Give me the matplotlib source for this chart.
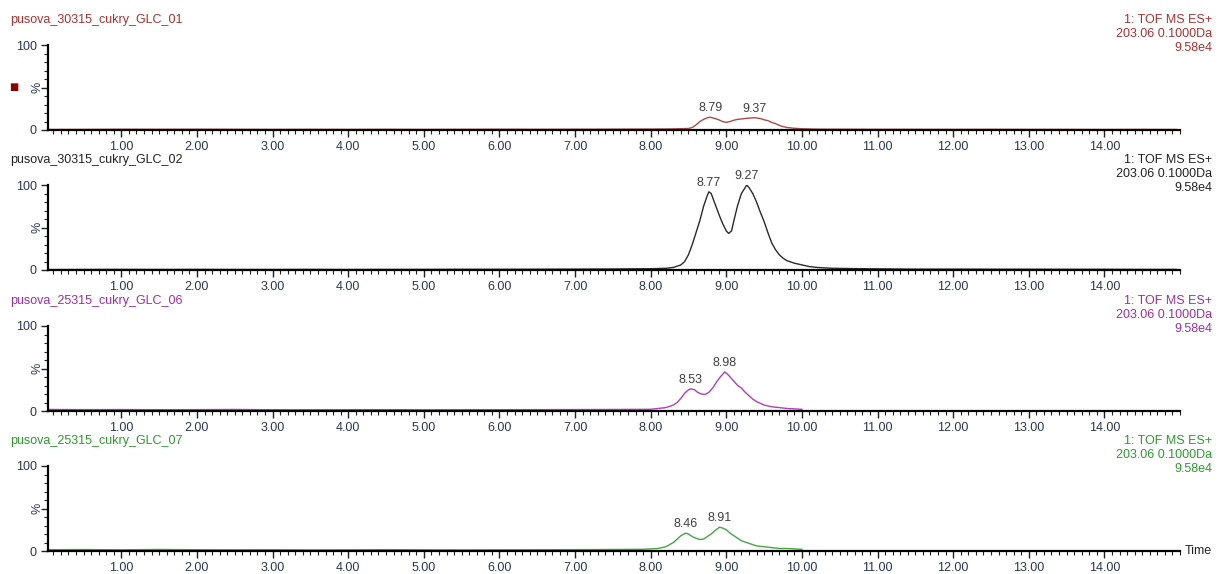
import numpy as np
import matplotlib.pyplot as plt
from matplotlib.ticker import MultipleLocator

plt.rcParams['font.family'] = ['Liberation Sans', 'DejaVu Sans']

# ---- data (retention time in min, relative intensity in %) ----
names = ['pusova_30315_cukry_GLC_01', 'pusova_30315_cukry_GLC_02',
         'pusova_25315_cukry_GLC_06', 'pusova_25315_cukry_GLC_07']
info = ['1: TOF MS ES+', '203.06 0.1000Da', '9.58e4']

t1 = [0.05, 0.5, 1.0, 1.5, 2.0, 2.5, 3.0, 3.5, 4.0, 4.5, 5.0, 5.5, 6.0, 6.5, 7.0, 7.5, 8.0, 8.3,
      8.5, 8.55, 8.6, 8.65, 8.7, 8.75, 8.79, 8.85, 8.9, 8.95, 9.0, 9.05, 9.1, 9.15, 9.2, 9.25,
      9.3, 9.37, 9.45, 9.5, 9.55, 9.6, 9.65, 9.7, 9.75, 9.8, 9.9, 10.0, 10.2, 10.5, 11.0, 11.5,
      12.0, 12.5, 13.0, 13.5, 14.0, 14.5, 14.95]
y1 = [0.6, 0.7, 0.9, 0.8, 0.9, 0.8, 0.7, 0.8, 0.7, 0.8, 0.7, 0.8, 0.9, 0.8, 0.9, 1.0, 1.1, 1.3,
      1.8, 3.0, 6.0, 10.0, 12.5, 14.5, 15.0, 13.5, 12.0, 10.0, 9.0, 10.0, 11.5, 12.5, 13.0, 13.5,
      14.0, 14.5, 13.5, 12.0, 11.0, 9.0, 7.5, 5.5, 4.0, 3.0, 2.0, 1.5, 1.0, 0.9, 0.8, 0.8,
      0.7, 0.8, 0.7, 0.7, 0.6, 0.7, 0.6]

t2 = [0.05, 0.5, 1.0, 1.5, 2.0, 2.5, 3.0, 3.5, 4.0, 4.5, 5.0, 5.5, 6.0, 6.5, 7.0, 7.5, 8.0, 8.2,
      8.3, 8.4, 8.45, 8.5, 8.55, 8.6, 8.65, 8.7, 8.75, 8.77, 8.8, 8.85, 8.9, 8.95, 9.0, 9.03,
      9.07, 9.1, 9.15, 9.2, 9.25, 9.27, 9.3, 9.35, 9.4, 9.45, 9.5, 9.55, 9.6, 9.65, 9.7, 9.75,
      9.8, 9.9, 10.0, 10.1, 10.2, 10.4, 10.8, 11.5, 12.0, 12.5, 13.0, 13.5, 14.0, 14.5, 14.95]
y2 = [0.5, 0.6, 0.7, 0.6, 0.7, 0.6, 0.6, 0.7, 0.6, 0.7, 0.7, 0.8, 0.8, 0.9, 1.0, 1.2, 1.5, 2.0,
      3.0, 6.0, 10.0, 18.0, 30.0, 44.0, 58.0, 75.0, 88.0, 92.0, 90.0, 78.0, 66.0, 55.0, 46.0, 43.0,
      46.0, 58.0, 76.0, 90.0, 97.0, 100.0, 97.0, 90.0, 80.0, 68.0, 57.0, 44.0, 32.0, 24.0, 18.0, 14.0,
      11.0, 8.0, 6.0, 4.0, 3.0, 2.0, 1.5, 1.0, 1.0, 0.9, 0.9, 0.8, 0.8, 0.7, 0.7]

t3 = [0.05, 0.5, 1.0, 1.5, 2.0, 2.5, 3.0, 3.5, 4.0, 4.5, 5.0, 5.5, 6.0, 6.5, 7.0, 7.5, 8.0, 8.1,
      8.2, 8.3, 8.35, 8.4, 8.45, 8.5, 8.53, 8.58, 8.62, 8.67, 8.72, 8.77, 8.82, 8.87, 8.92, 8.96,
      8.98, 9.02, 9.06, 9.1, 9.15, 9.2, 9.25, 9.3, 9.35, 9.4, 9.5, 9.6, 9.7, 9.8, 9.9, 10.0]
y3 = [1.8, 1.6, 1.7, 1.5, 1.6, 1.8, 1.5, 1.4, 1.5, 1.6, 1.4, 1.5, 1.5, 1.6, 1.7, 1.8, 2.0, 3.0,
      4.0, 7.0, 10.0, 15.0, 21.0, 25.0, 26.0, 25.0, 22.0, 20.0, 19.5, 22.0, 27.0, 34.0, 40.0, 44.0,
      46.0, 43.0, 39.0, 35.0, 30.0, 27.0, 22.0, 18.0, 14.0, 11.0, 7.0, 5.0, 4.0, 3.0, 2.5, 2.0]

t4 = [0.05, 0.5, 1.0, 1.5, 2.0, 2.5, 3.0, 3.5, 4.0, 4.5, 5.0, 5.5, 6.0, 6.5, 7.0, 7.5, 7.9, 8.0,
      8.1, 8.2, 8.3, 8.35, 8.4, 8.46, 8.5, 8.55, 8.6, 8.65, 8.7, 8.75, 8.8, 8.85, 8.91, 8.95,
      9.0, 9.05, 9.1, 9.15, 9.2, 9.3, 9.4, 9.5, 9.6, 9.7, 9.8, 9.9, 10.0]
y4 = [1.5, 1.7, 1.4, 1.8, 1.5, 1.4, 1.5, 1.3, 1.4, 1.6, 1.4, 1.3, 1.4, 1.5, 1.6, 1.8, 2.0, 2.5,
      3.0, 5.0, 10.0, 14.0, 18.0, 21.0, 20.0, 17.0, 15.0, 13.5, 14.0, 17.0, 20.0, 24.0, 28.0, 27.0,
      25.0, 21.0, 18.0, 15.0, 12.0, 9.0, 6.0, 5.0, 4.0, 3.0, 3.0, 2.5, 2.0]

peaks = [[(8.79, 15.0), (9.37, 14.5)],
         [(8.77, 92.0), (9.27, 100.0)],
         [(8.53, 26.0), (8.98, 46.0)],
         [(8.46, 21.0), (8.91, 28.0)]]

times = [t1, t2, t3, t4]
values = [y1, y2, y3, y4]
line_colors = ['#b04848', '#2a2a2a', '#b040b8', '#45a545']
text_colors = ['#a83232', '#222222', '#9b30a0', '#2e9a2e']

# ---- layout in pixels ----
W, H = 1218, 574
fig = plt.figure(figsize=(W / 100, H / 100), dpi=100)
left_px, right_px = 48, 1180
zero_px = [130, 270, 411, 551]
h_px = 85

for i in range(4):
    bottom = (H - zero_px[i]) / H
    ax = fig.add_axes([left_px / W, bottom, (right_px - left_px) / W, h_px / H])
    ax.plot(times[i], values[i], color=line_colors[i], lw=1.0)
    ax.set_xlim(0.03, 15.0)
    ax.set_ylim(0, 100)
    for s in ['top', 'right']:
        ax.spines[s].set_visible(False)
    for s in ['left', 'bottom']:
        ax.spines[s].set_linewidth(1.6)
        ax.spines[s].set_color('black')
    ax.spines['left'].set_zorder(5)

    ax.set_xticks(np.arange(1, 15))
    ax.set_xticklabels(['%.2f' % v for v in range(1, 15)])
    ax.xaxis.set_minor_locator(MultipleLocator(0.1))
    ax.set_yticks([0, 50, 100])
    ax.set_yticklabels(['0', '', '100'])
    ax.yaxis.set_minor_locator(MultipleLocator(10))
    ax.tick_params(axis='both', which='major', length=5, width=1.0, labelsize=9,
                   colors='#222222', labelcolor='#2a3550', pad=3)
    ax.tick_params(axis='both', which='minor', length=3, width=0.8, colors='#222222')
    ax.annotate('%', (0, 0.5), xycoords='axes fraction', xytext=(-7.5, 0),
                textcoords='offset points', rotation=90, ha='center', va='center',
                fontsize=9, color='#2a3550')

    for (pt, pv) in peaks[i]:
        ax.annotate('%.2f' % pt, (pt, pv), xytext=(0, 2), textcoords='offset points',
                    ha='center', va='bottom', fontsize=9, color='#404040')

    # sample name and acquisition info
    ty = (H - (zero_px[i] - 110)) / H
    fig.text(10 / W, ty, names[i], fontsize=9, color=text_colors[i], va='center', ha='left')
    for k, line in enumerate(info):
        fig.text(1212 / W, (H - (zero_px[i] - 110 + 14 * k)) / H, line, fontsize=9,
                 color=text_colors[i], va='center', ha='right')

# small marker at left of top trace
fig.text(14 / W, (H - 87) / H, '\u25A0', fontsize=7, color='#8b0000', ha='center', va='center',
         family='DejaVu Sans')
fig.text(1185 / W, (H - 551) / H, 'Time', fontsize=9, color='#222222', ha='left', va='center')

fig.savefig('out.png', dpi=100)
